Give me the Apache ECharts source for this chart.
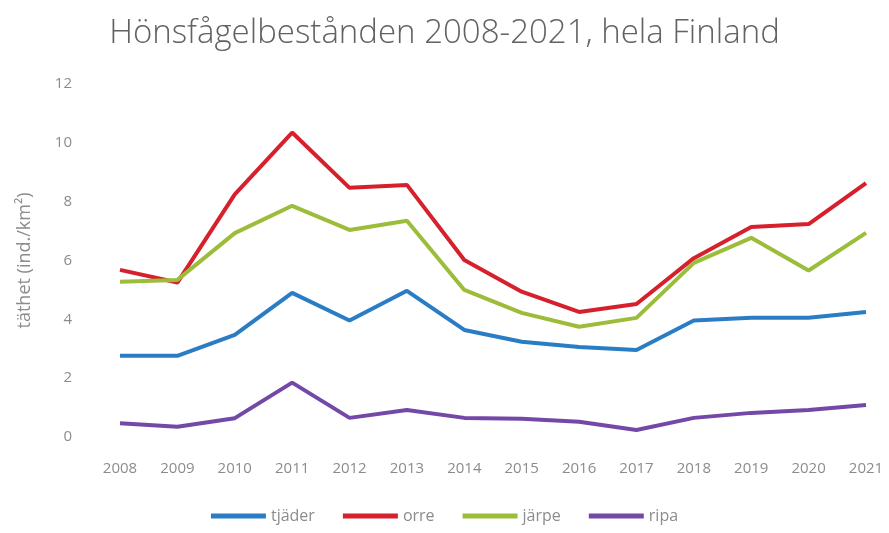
<!DOCTYPE html>
<html>
<head>
<meta charset="utf-8">
<script src="https://cdn.jsdelivr.net/npm/echarts@6/dist/echarts.min.js"></script>
<style>
  html, body { margin: 0; padding: 0; background: #fff; }
  #chart { width: 889px; height: 533px; }
</style>
</head>
<body>
<div id="chart"></div>
<script>
// år och tätheter (ind./km²)
const years = ["2008", "2009", "2010", "2011", "2012", "2013", "2014", "2015", "2016", "2017", "2018", "2019", "2020", "2021"];
const tjader = [2.76, 2.76, 3.47, 4.9, 3.96, 4.97, 3.64, 3.24, 3.06, 2.96, 3.96, 4.05, 4.05, 4.25];
const orre = [5.68, 5.25, 8.25, 10.35, 8.47, 8.57, 6.02, 4.94, 4.25, 4.52, 6.08, 7.14, 7.24, 8.63];
const jarpe = [5.28, 5.34, 6.93, 7.86, 7.04, 7.35, 5.0, 4.22, 3.75, 4.05, 5.92, 6.77, 5.66, 6.94];
const ripa = [0.47, 0.35, 0.64, 1.85, 0.65, 0.92, 0.65, 0.62, 0.52, 0.24, 0.65, 0.82, 0.92, 1.09];

const fontFam = "'Open Sans', 'DejaVu Sans', sans-serif";
const greyText = "#8c8c8c";

function lineSeries(name, data, color) {
  return {
    name: name,
    type: "line",
    data: data,
    symbol: "none",
    lineStyle: { width: 4, color: color },
    itemStyle: { color: color }
  };
}

const chart = echarts.init(document.getElementById("chart"));
chart.setOption({
  backgroundColor: "#ffffff",
  title: {
    text: "Hönsfågelbestånden 2008-2021, hela Finland",
    left: "center",
    top: 12,
    textStyle: { fontFamily: fontFam, fontSize: 33, fontWeight: 300, color: "#626262" }
  },
  grid: { left: 120, right: 23, top: 84, bottom: 96 },
  legend: {
    bottom: 4,
    left: "center",
    itemWidth: 55,
    itemHeight: 5,
    itemGap: 28,
    icon: "rect",
    textStyle: { fontFamily: fontFam, fontSize: 16, color: greyText },
    data: ["tjäder", "orre", "järpe", "ripa"]
  },
  xAxis: {
    type: "category",
    data: years,
    boundaryGap: false,
    axisLine: { show: false },
    axisTick: { show: false },
    axisLabel: { fontFamily: fontFam, fontSize: 15, color: greyText, margin: 24 }
  },
  yAxis: {
    type: "value",
    min: 0,
    max: 12,
    interval: 2,
    name: "täthet (ind./km²)",
    nameLocation: "middle",
    nameGap: 86,
    nameTextStyle: { fontFamily: fontFam, fontSize: 18, color: greyText },
    splitLine: { show: false },
    axisLine: { show: false },
    axisTick: { show: false },
    axisLabel: { fontFamily: fontFam, fontSize: 15, color: greyText, margin: 48 }
  },
  series: [
    lineSeries("tjäder", tjader, "#2a7dc4"),
    lineSeries("orre", orre, "#d6202b"),
    lineSeries("järpe", jarpe, "#9cbd3a"),
    lineSeries("ripa", ripa, "#7448a6")
  ]
});
</script>
</body>
</html>
